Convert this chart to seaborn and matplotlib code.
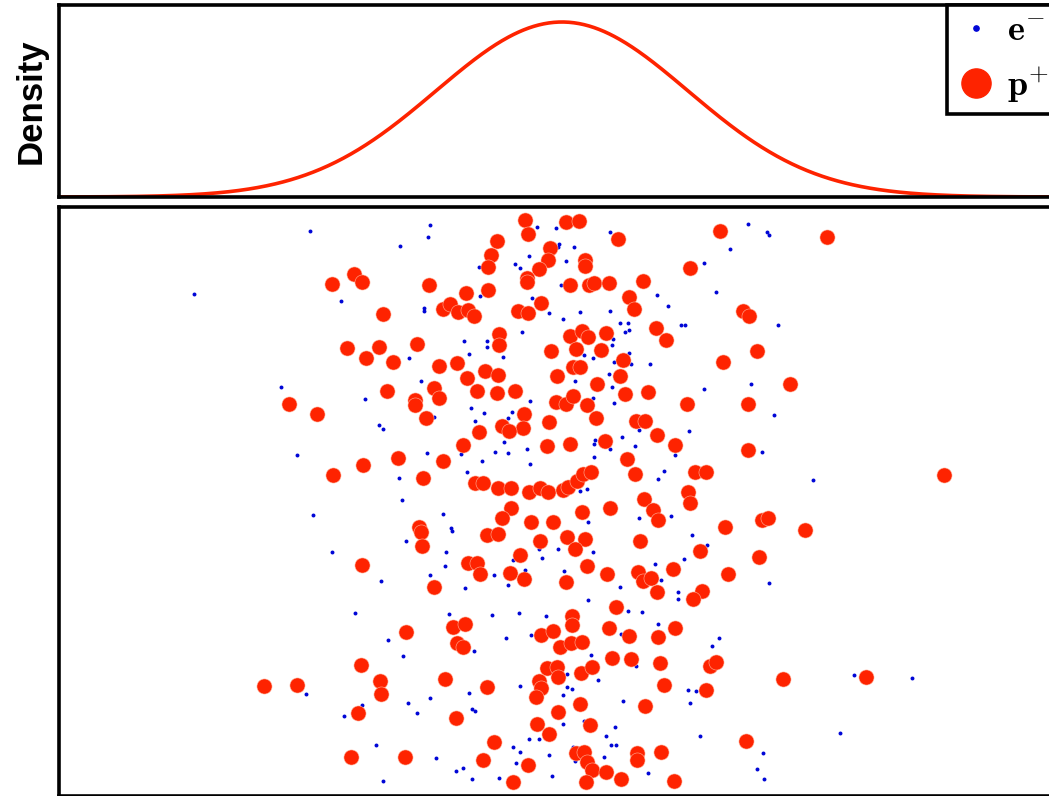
import numpy as np
import matplotlib
matplotlib.use("Agg")
import matplotlib.pyplot as plt
from matplotlib.lines import Line2D
import seaborn as sns

# ---------------- data ----------------
# electrons (small blue dots): horizontal offset from the centre, height above the lowest row
electron_x = [
    -252, -132, -134, -162, -368, -221, -138, -138, -153, -141, -281, -197, -128, -183, -179, -265, -135, -163, -160,
    -25, -6, 48, -3, -4, 12, -33, 4, -47, -42, -83, 142, -1, -82, -30, 95, 106, -13, 1, 18, 48, 58, 66, 63, 67,
    119, 123, -40, -98, -75, -75, -93, -59, 51, 50, 22, 31, 67, 52, 69, 88, 47, 13, 50, 31, 52, 142, -91, -78, -50,
    -54, -32, -87, 127, 77, 60, 33, 32, 73, 48, -58, -67, -54, -35, -101, -80, -32, 32, 113, -95, 102, 96, 18, 25,
    186, 205, 207, 168, 154, 216, 189, 212, 200, 251,
    -249, -119, -156, -230, -181, -132, -207, -174, -159, -256, -200, -218, -154, -145, -132, -186, -126, -179,
    -111, -110, -116, -117, -97, -68, -54, -49, -37, -23, -20, -4, 2, 26, 31, 26, 58, 77, 109, 130, 122, 93, 99,
    116, 116, 66, 80, 96, -113, -70, -43, -16, -56, -31, -88, 59, 29, 74, 36, 5, 5, 10, 1, -42, -93, -90, -87, 61,
    126, 134, 128, 1, 22, 53, 44, 49, 54, 138, -33, -23, -49, -42, -46, -13, 11, 42, 13, -106, -99, -90, -63, -10, 86,
    145, 207, 157, 150, 292, 350, 278, 201, 195, 202,
]
electron_y = [
    551, 557, 545, 536, 488, 481, 474, 471, 424, 401, 395, 383, 365, 357, 353, 327, 329, 304, 282,
    555, 554, 550, 538, 535, 535, 526, 521, 518, 514, 515, 519, 497, 486, 484, 487, 476, 469, 463, 470, 471, 459, 459, 450, 452,
    457, 457, 450, 441, 441, 435, 428, 425, 443, 437, 427, 424, 429, 420, 418, 418, 408, 401, 395, 384, 379, 393, 374, 369, 370,
    364, 381, 361, 351, 352, 345, 342, 338, 336, 333, 340, 330, 329, 333, 328, 321, 318, 325, 327, 310, 311, 303, 291, 293,
    558, 550, 547, 533, 490, 457, 398, 367, 330, 302,
    267, 268, 241, 230, 201, 207, 169, 142, 126, 88, 77, 66, 79, 69, 84, 37, 24, 1,
    254, 251, 230, 216, 194, 207, 197, 222, 212, 233, 224, 233, 211, 260, 230, 182, 195, 264, 266, 247, 223, 218, 202,
    190, 183, 171, 170, 158, 168, 167, 169, 166, 144, 147, 131, 148, 127, 116, 102, 108, 95, 93, 87, 96, 89, 73, 71, 81,
    92, 91, 79, 58, 61, 55, 46, 37, 37, 46, 43, 43, 35, 30, 19, 27, 35, 25, 21, 11, 14, 3, 4, 6, 9,
    237, 199, 144, 136, 107, 104, 49, 29, 13, 3,
]

# protons (large red dots)
proton_x = [
    -230, -208, -200, -133, -119, -179, -215, -183, -196, -169, -145, -123, -175, -128, -123, -147, -147, -136, -273, -245,
    -164, -199, -229, -139, -119,
    -37, -34, 4, 17, 56, -65, -71, -74, -12, -14, -23, -35, -35, 23, 23, 8, 27, 32, 47, 81, 128, -74, -96, -21, 67,
    72, -112, -104, -94, -88, -44, -34, 94, 104, -63, -63, -11, 8, 20, 26, 14, 44, 39, 61, 58, 11, 18, -5, -105, -77,
    -64, -95, -85, -65, -47, 35, 63, 86, 125, -6, 4, 11, 25, 34, -13, -38, -39, -60, -53, -83, 74, 83, 95, 113, -99,
    -15, 8, 43, 65, 73, 133, 144, 126, -87, -79, -64, -51, -33, -22, -14, 1, 6, 15, 21, 29, 82,
    158, 265, 181, 187, 195, 161, 228, 186, 186, 382,
    -143, -141, -140, -200, -128, -156, -201, -182, -181, -298, -265, -204, -211, -157, -117,
    91, 96, 128, -51, -60, -75, -64, -31, -9, 20, 48, -22, 5, 23, 13, 78, 138, -42, -94, -85, -82, -52, -38, 4, 25,
    45, 76, 81, 89, 95, 111, 140, 131, 54, -109, -97, -105, -99, 10, 10, -21, -9, -2, 9, 20, 47, 67, 96, 113, 50, 69,
    98, -75, -15, -5, -4, -23, -21, -26, 19, 30, 102, 83, 18, -4, -106, -25, -13, 28, -68, -79, -34, -49, 14, 22, 25,
    30, 24, 44, 59, 75, 75, 99, 112,
    163, 200, 206, 243, 197, 166, 148, 154, 144, 221, 304, 184,
]
proton_y = [
    498, 508, 500, 497, 473, 468, 434, 435, 424, 420, 438, 416, 391, 394, 384, 382, 377, 364, 378, 368,
    324, 317, 307, 304, 321,
    562, 548, 560, 561, 543, 541, 527, 515, 534, 522, 513, 504, 500, 522, 516, 497, 497, 499, 499, 501, 514, 492, 489, 479, 485,
    473, 478, 470, 472, 466, 471, 469, 454, 442, 448, 437, 431, 446, 451, 445, 433, 449, 432, 422, 406, 415, 415, 406, 419, 411,
    407, 404, 391, 389, 391, 398, 388, 390, 378, 380, 378, 386, 377, 364, 360, 368, 354, 356, 351, 350, 361, 361, 347, 337, 337,
    336, 338, 341, 323, 308, 310, 310, 290, 299, 299, 294, 294, 290, 294, 290, 292, 295, 301, 308, 310, 283,
    551, 545, 471, 466, 431, 420, 398, 378, 332, 307,
    255, 250, 236, 217, 195, 150, 117, 101, 88, 96, 97, 69, 25, 25, 103,
    272, 262, 279, 274, 264, 247, 248, 260, 260, 270, 274, 241, 245, 243, 233, 241, 231, 227, 219, 219, 208, 209, 203, 200, 216,
    208, 210, 201, 204, 190, 213, 191, 183, 175, 155, 158, 139, 135, 166, 157, 147, 151, 135, 139, 140, 154, 146, 145, 154, 124, 123,
    119, 95, 114, 115, 105, 101, 94, 85, 109, 115, 97, 76, 78, 70, 64, 58, 48, 57, 40, 22, 17, 0, 29, 30, 20,
    12, 0, 10, 3, 29, 22, 30, 1,
    255, 262, 264, 252, 225, 208, 116, 120, 92, 103, 105, 41,
]

# fitted density shown in the top panel (same horizontal units as the scatter)
density_mean = 0.0
density_sd = 126.0

series_labels = [r"$\mathbf{e^{-}}$", r"$\mathbf{p^{+}}$"]
density_label = "Density"

# ---------------- style ----------------
RED = "#fe2300"
BLUE = "#0006d6"
W, H = 1049, 796

sns.set_style("white")
plt.rcParams["mathtext.fontset"] = "cm"
plt.rcParams["font.family"] = ["Liberation Sans", "DejaVu Sans"]
plt.rcParams["text.color"] = "black"
plt.rcParams["axes.labelcolor"] = "black"

fig = plt.figure(figsize=(W / 100, H / 100), dpi=100)
fig.patch.set_facecolor("white")

left, right = 58.5, 1065.5
ax_top = fig.add_axes([left / W, 1 - 197 / H, (right - left) / W, 192.5 / H])
ax_bot = fig.add_axes([left / W, 1 - 795.5 / H, (right - left) / W, 588.5 / H])

half_width = 503.5
xlim = (density_mean - half_width, density_mean + half_width)

# density curve
grid = np.linspace(xlim[0], xlim[1], 800)
pdf = np.exp(-0.5 * ((grid - density_mean) / density_sd) ** 2) / (density_sd * np.sqrt(2 * np.pi))
sns.lineplot(x=grid, y=pdf, ax=ax_top, color=RED, linewidth=2.6)
ax_top.set_xlim(*xlim)
ax_top.set_ylim(0, pdf.max() * 1.1)

# scatter
sns.scatterplot(x=electron_x, y=electron_y, ax=ax_bot, color=BLUE, s=8, linewidth=0, zorder=2)
sns.scatterplot(x=proton_x, y=proton_y, ax=ax_bot, color=RED, s=118, edgecolor="#ffb59e", linewidth=0.4, zorder=3)
ax_bot.set_xlim(*xlim)
ax_bot.set_ylim(-13.5, 575)

for ax in (ax_top, ax_bot):
    ax.set_xticks([])
    ax.set_yticks([])
    ax.set_xlabel("")
    ax.set_ylabel("")
    for sp in ax.spines.values():
        sp.set_visible(True)
        sp.set_color("black")
        sp.set_linewidth(2.6)

ax_top.set_ylabel(density_label, fontsize=25, fontweight="bold", labelpad=8, color="black")

handles = [
    Line2D([], [], marker="o", linestyle="", color=BLUE, markersize=3.8, label=series_labels[0]),
    Line2D([], [], marker="o", linestyle="", color=RED, markersize=21, label=series_labels[1]),
]
leg = ax_top.legend(handles=handles, loc="upper right", bbox_to_anchor=((1058 - left) / (right - left), 1.0),
                    borderaxespad=0, frameon=True, fancybox=False,
                    edgecolor="black", framealpha=1, fontsize=26, handletextpad=0.3, borderpad=0.25,
                    labelspacing=0.45, handlelength=1.1, labelcolor="black")
leg.get_frame().set_linewidth(2.6)

fig.savefig("out.png", dpi=100, facecolor="white")
